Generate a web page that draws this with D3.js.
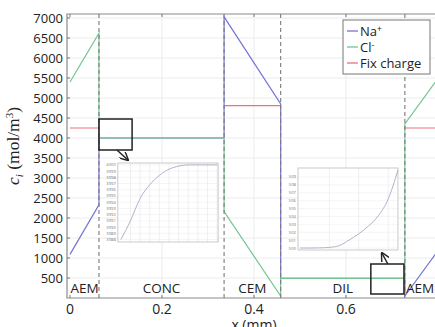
<!DOCTYPE html>
<html>
<head>
<meta charset="utf-8">
<script src="https://cdn.jsdelivr.net/npm/d3@7"></script>
<style>
  body { margin: 0; background: #fff; }
  svg { display: block; font-family: "Open Sans", "DejaVu Sans", sans-serif; }
</style>
</head>
<body>
<svg id="chart" width="435" height="327"></svg>
<script>
// concentration profiles across the stack (x in mm, c in mol/m3)
const naX   = [0, 0.063, 0.063, 0.335, 0.335, 0.458, 0.458, 0.728, 0.728, 0.80];
const naC   = [1090, 2330, 4000, 4000, 7030, 4850, 490, 490, 50, 1185];
const clX   = [0, 0.063, 0.063, 0.335, 0.335, 0.458, 0.458, 0.728, 0.728, 0.80];
const clC   = [5400, 6620, 4000, 4000, 2160, 50, 490, 490, 4350, 5490];
const fixX  = [0, 0.063, null, 0.335, 0.458, null, 0.728, 0.80];
const fixC  = [4250, 4250, null, 4810, 4810, null, 4250, 4250];

const boundaries = [0.063, 0.335, 0.458, 0.728];
const regionNames = ["AEM", "CONC", "CEM", "DIL", "AEM"];
const regionMid = [0.0315, 0.199, 0.3965, 0.593, 0.761];

const xTicks = [0, 0.2, 0.4, 0.6];
const yTicks = [500, 1000, 1500, 2000, 2500, 3000, 3500, 4000, 4500, 5000, 5500, 6000, 6500, 7000];

// zoom boxes [x0, x1, c0, c1] and arrows [x0, c0, x1, c1]
const zoomBoxes = [[0.063, 0.135, 3700, 4475], [0.654, 0.726, 100, 850]];
const zoomArrows = [[0.102, 3700, 0.126, 3450], [0.691, 850, 0.678, 1125]];

// inset 1: CONC side near the membrane
const in1Idx = [0, 1, 2, 3, 4, 5, 6, 7, 8, 9, 10];
const in1C   = [3988, 3991.0, 3994.6, 3996.8, 3998.3, 3999.3, 3999.8, 4000, 4000, 4000, 4000];
const in1Ticks = [3988, 3989, 3990, 3991, 3992, 3993, 3994, 3995, 3996, 3997, 3998, 3999, 4000];
const in1Box = [0.104, 0.322, 1400, 3375];

// inset 2: DIL side near the membrane
const in2Idx = [0, 1, 2, 3, 4, 5, 6, 7, 8, 9, 10];
const in2C   = [500, 500, 500.02, 500.08, 500.3, 501.0, 501.8, 502.8, 504.1, 506.2, 509.9];
const in2Ticks = [500, 501, 502, 503, 504, 505, 506, 507, 508, 509];
const in2Box = [0.4957, 0.713, 1200, 3250];

const colors = { na: "#7474d6", cl: "#72c592", fix: "#e9727c" };

const svg = d3.select("#chart");
const W = 435, H = 327;
const plotLeft = 67, plotTop = 14, plotBottom = 298;

const x = d3.scaleLinear().domain([-0.0065, 0.8]).range([plotLeft, plotLeft + 0.8065 * 460]);
const y = d3.scaleLinear().domain([0, 7100]).range([plotBottom, plotTop]);

const defs = svg.append("defs");
defs.append("clipPath").attr("id", "plot-clip")
    .append("rect").attr("x", plotLeft).attr("y", plotTop)
    .attr("width", W - plotLeft).attr("height", plotBottom - plotTop);

defs.append("marker")
    .attr("id", "arrowhead")
    .attr("viewBox", "0 0 10 10")
    .attr("refX", 9).attr("refY", 5)
    .attr("markerWidth", 6).attr("markerHeight", 6)
    .attr("orient", "auto")
    .append("path")
    .attr("d", "M0,0 L10,5 L0,10")
    .attr("fill", "none")
    .attr("stroke", "#222")
    .attr("stroke-width", 1.6);

// grid
const grid = svg.append("g");
grid.selectAll("line.h").data(yTicks).enter().append("line")
    .attr("x1", plotLeft).attr("x2", W)
    .attr("y1", d => y(d)).attr("y2", d => y(d))
    .attr("stroke", "#ececec");
grid.selectAll("line.v").data(xTicks.filter(d => d > 0)).enter().append("line")
    .attr("x1", d => x(d)).attr("x2", d => x(d))
    .attr("y1", plotTop).attr("y2", plotBottom)
    .attr("stroke", "#ececec");

// frame
svg.append("path")
    .attr("d", `M${W},${plotTop} H${plotLeft} V${plotBottom} H${W}`)
    .attr("fill", "none").attr("stroke", "#8a8a8a").attr("stroke-width", 1.2);

// inner ticks
const tickG = svg.append("g").attr("stroke", "#777");
tickG.selectAll("line.bx").data(xTicks).enter().append("line")
    .attr("x1", d => x(d)).attr("x2", d => x(d))
    .attr("y1", plotBottom).attr("y2", plotBottom - 3);
tickG.selectAll("line.tx").data(xTicks).enter().append("line")
    .attr("x1", d => x(d)).attr("x2", d => x(d))
    .attr("y1", plotTop).attr("y2", plotTop + 3);
tickG.selectAll("line.ly").data(yTicks).enter().append("line")
    .attr("x1", plotLeft).attr("x2", plotLeft + 3)
    .attr("y1", d => y(d)).attr("y2", d => y(d));

// tick labels
svg.append("g").selectAll("text").data(yTicks).enter().append("text")
    .attr("x", plotLeft - 4).attr("y", d => y(d) + 4.5)
    .attr("text-anchor", "end")
    .style("font-size", "13px").attr("fill", "#222")
    .text(d => d);
svg.append("g").selectAll("text").data(xTicks).enter().append("text")
    .attr("x", d => x(d)).attr("y", 313.5)
    .attr("text-anchor", "middle")
    .style("font-size", "14px").attr("fill", "#222")
    .text(d => d);

// axis labels (cut at the lower edge, as in the source figure)
svg.append("text")
    .attr("x", x(0.4)).attr("y", 330)
    .attr("text-anchor", "middle")
    .style("font-size", "14px").attr("fill", "#222")
    .text("x (mm)");

const yLab = svg.append("text")
    .attr("transform", `translate(19, ${146}) rotate(-90)`)
    .attr("text-anchor", "middle")
    .style("font-family", "'Liberation Serif', 'DejaVu Serif', serif")
    .style("font-size", "17.5px").attr("fill", "#222");
yLab.append("tspan").style("font-style", "italic").text("c");
yLab.append("tspan").style("font-style", "italic").style("font-size", "11px").attr("dy", 4).text("i");
yLab.append("tspan").attr("dy", -4).text(" (mol/m");
yLab.append("tspan").style("font-size", "11px").attr("dy", -6).text("3");
yLab.append("tspan").attr("dy", 6).text(")");

// curves
const plot = svg.append("g").attr("clip-path", "url(#plot-clip)");
const line = d3.line()
    .defined(d => d[0] !== null)
    .x(d => x(d[0]))
    .y(d => y(d[1]));

plot.append("path")
    .datum(naX.map((v, i) => [v, naC[i]]))
    .attr("d", line).attr("fill", "none")
    .attr("stroke", colors.na).attr("stroke-width", 1.2);
plot.append("path")
    .datum(clX.map((v, i) => [v, clC[i]]))
    .attr("d", line).attr("fill", "none")
    .attr("stroke", colors.cl).attr("stroke-width", 1.2);
plot.append("path")
    .datum(fixX.map((v, i) => [v, fixC[i]]))
    .attr("d", line).attr("fill", "none")
    .attr("stroke", colors.fix).attr("stroke-width", 1.2);

// membrane boundaries
plot.selectAll("line.bound").data(boundaries).enter().append("line")
    .attr("x1", d => x(d)).attr("x2", d => x(d))
    .attr("y1", plotTop).attr("y2", plotBottom)
    .attr("stroke", "#7a7a7a").attr("stroke-width", 1.1)
    .attr("stroke-dasharray", "4,3");

// region names
plot.selectAll("text.region").data(regionNames).enter().append("text")
    .attr("x", (d, i) => x(regionMid[i])).attr("y", plotBottom - 5)
    .attr("text-anchor", "middle")
    .style("font-size", "13.5px").attr("fill", "#222")
    .text(d => d);

// zoom boxes and arrows
plot.selectAll("rect.zoom").data(zoomBoxes).enter().append("rect")
    .attr("x", d => x(d[0])).attr("y", d => y(d[3]))
    .attr("width", d => x(d[1]) - x(d[0])).attr("height", d => y(d[2]) - y(d[3]))
    .attr("fill", "none").attr("stroke", "#222").attr("stroke-width", 1.5);
plot.selectAll("line.arrow").data(zoomArrows).enter().append("line")
    .attr("x1", d => x(d[0])).attr("y1", d => y(d[1]))
    .attr("x2", d => x(d[2])).attr("y2", d => y(d[3]))
    .attr("stroke", "#222").attr("stroke-width", 1.5)
    .attr("marker-end", "url(#arrowhead)");

// insets
function drawInset(box, idx, vals, ticks, vGrid, pad) {
    const x0 = x(box[0]), x1 = x(box[1]), yTop = y(box[3]), yBot = y(box[2]);
    const g = svg.append("g");
    const ix = d3.scaleLinear().domain([pad[0], pad[1]]).range([x0, x1]);
    const iy = d3.scaleLinear().domain([pad[2], pad[3]]).range([yBot, yTop]);
    g.append("rect").attr("x", x0).attr("y", yTop)
        .attr("width", x1 - x0).attr("height", yBot - yTop)
        .attr("fill", "#fff");
    g.selectAll("line.h").data(ticks).enter().append("line")
        .attr("x1", x0).attr("x2", x1)
        .attr("y1", d => iy(d)).attr("y2", d => iy(d))
        .attr("stroke", "#eeeeee").attr("stroke-width", 0.6);
    g.selectAll("line.v").data(vGrid).enter().append("line")
        .attr("x1", d => ix(d)).attr("x2", d => ix(d))
        .attr("y1", yTop).attr("y2", yBot)
        .attr("stroke", "#e6e6e6").attr("stroke-width", 0.6);
    g.append("rect").attr("x", x0).attr("y", yTop)
        .attr("width", x1 - x0).attr("height", yBot - yTop)
        .attr("fill", "none").attr("stroke", "#bdbdbd").attr("stroke-width", 0.8);
    g.selectAll("text").data(ticks).enter().append("text")
        .attr("x", x0 - 2).attr("y", d => iy(d) + 1.5)
        .attr("text-anchor", "end")
        .style("font-size", "4.2px").attr("fill", "#777")
        .text(d => d);
    g.append("path")
        .datum(idx.map((v, i) => [v, vals[i]]))
        .attr("d", d3.line().x(d => ix(d[0])).y(d => iy(d[1])).curve(d3.curveMonotoneX))
        .attr("fill", "none").attr("stroke", "#a9a9c4").attr("stroke-width", 0.9);
}
drawInset(in1Box, in1Idx, in1C, in1Ticks, d3.range(1, 11), [-0.31, 10.1, 3987.6, 4000.3]);
drawInset(in2Box, in2Idx, in2C, in2Ticks, [3, 6, 9], [-0.2, 10, 499.75, 510.14]);

// legend
const legendItems = [
    { key: "na", name: "Na", sup: "+" },
    { key: "cl", name: "Cl", sup: "-" },
    { key: "fix", name: "Fix charge", sup: "" }
];
const lg = svg.append("g").attr("transform", "translate(343, 20)");
lg.append("rect").attr("width", 87).attr("height", 54)
    .attr("fill", "#fff").attr("stroke", "#777").attr("stroke-width", 1);
const li = lg.selectAll("g.item").data(legendItems).enter().append("g")
    .attr("transform", (d, i) => `translate(0, ${11 + i * 16})`);
li.append("line").attr("x1", 4).attr("x2", 15)
    .attr("stroke", d => colors[d.key]).attr("stroke-width", 1.3);
const lt = li.append("text").attr("x", 17).attr("y", 5)
    .style("font-size", "13px").attr("fill", "#222");
lt.append("tspan").text(d => d.name);
lt.append("tspan").attr("dy", -4).style("font-size", "8.5px").text(d => d.sup);
</script>
</body>
</html>
